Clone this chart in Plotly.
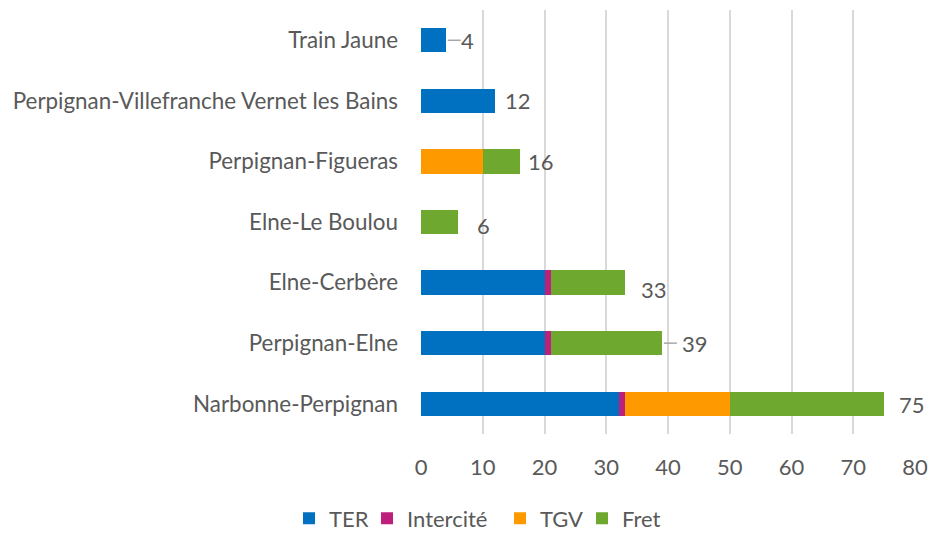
import plotly.graph_objects as go

categories = ["Narbonne-Perpignan", "Perpignan-Elne", "Elne-Cerbère", "Elne-Le Boulou",
              "Perpignan-Figueras", "Perpignan-Villefranche Vernet les Bains", "Train Jaune"]
ter = [32, 20, 20, 0, 0, 12, 4]
intercite = [1, 1, 1, 0, 0, 0, 0]
tgv = [17, 0, 0, 0, 10, 0, 0]
fret = [25, 18, 12, 6, 6, 0, 0]
totals = [75, 39, 33, 6, 16, 12, 4]
x_ticks = [0, 10, 20, 30, 40, 50, 60, 70, 80]

series = [("TER", ter, "#0070C0"), ("Intercité", intercite, "#BF1F7C"),
          ("TGV", tgv, "#FF9900"), ("Fret", fret, "#6EA82F")]
legend_w = [33, 88, 37, 40]

# label pixel offsets (dx, dy) and which labels have leader lines
label_off = [(28, -1), (33, 0), (29, -7), (25, -3), (21, 0), (23, 0), (22, 0)]
leader = [False, True, False, False, False, False, True]

font = "Lato"
txt = "#595959"
fig = go.Figure()
for (name, vals, col), lw in zip(series, legend_w):
    fig.add_trace(go.Bar(y=categories, x=vals, name=name, orientation="h",
                         marker=dict(color=col, line=dict(width=0)), width=0.4,
                         legendwidth=lw))

for c, t, (dx, dy), ld in zip(categories, totals, label_off, leader):
    fig.add_annotation(x=t, y=c, text=str(t), showarrow=False, xshift=dx, yshift=dy,
                       font=dict(family=font, size=22, color=txt))
    if ld:
        fig.add_shape(type="line", xref="x", yref="y", xsizemode="pixel", xanchor=t,
                      x0=2, x1=15, y0=c, y1=c, line=dict(color="#A6A6A6", width=1.5))

fig.update_layout(
    barmode="stack", width=930, height=540,
    margin=dict(l=421, r=15, t=10, b=106, autoexpand=False),
    plot_bgcolor="white", paper_bgcolor="white",
    font=dict(family=font, size=22, color=txt),
    legend=dict(orientation="h", xref="container", yref="container",
                x=0.514, xanchor="center", y=0.04, yanchor="middle",
                font=dict(family=font, size=22, color=txt),
                traceorder="normal", itemwidth=30),
    bargap=0.6,
)
fig.update_xaxes(range=[0, 80], tickvals=x_ticks, showgrid=True, gridcolor="#D9D9D9",
                 gridwidth=2, zeroline=False, showline=False, ticks="", automargin=False,
                 ticklabelstandoff=18, tickfont=dict(family=font, size=22, color=txt))
fig.update_yaxes(categoryorder="array", categoryarray=categories, showgrid=False,
                 ticks="", ticklabelstandoff=22, showline=False, automargin=False,
                 tickfont=dict(family=font, size=22.4, color=txt))
fig.write_html("out.html", config={"displayModeBar": False},
               post_script="document.body.style.margin='0';document.body.style.overflow='hidden';")
